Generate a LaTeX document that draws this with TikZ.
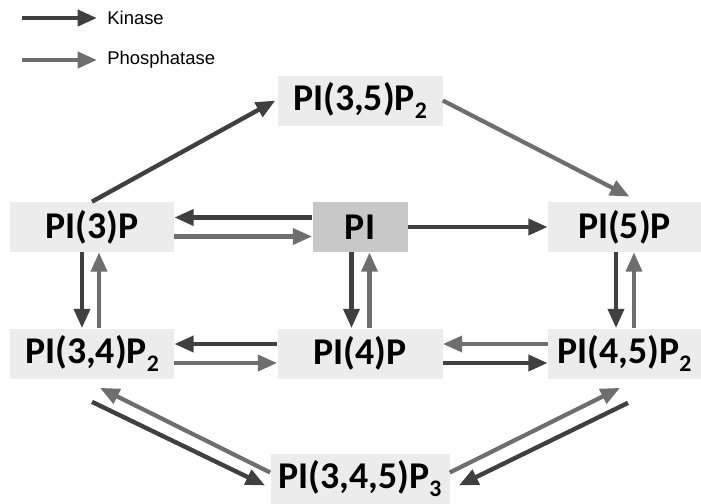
\documentclass[tikz,border=0pt]{standalone}
\usepackage{fontspec}
\setmainfont{Carlito}
\newfontfamily\legendfont{Liberation Sans}
\usepackage{xcolor}
\usepackage{tikz}
\usetikzlibrary{arrows.meta}
\usetikzlibrary{positioning}
\definecolor{kincol}{HTML}{404040}
\definecolor{phoscol}{HTML}{6E6E6E}
\definecolor{boxcol}{HTML}{ECECEC}
\definecolor{picol}{HTML}{C8C8C8}
\newcommand{\psub}[1]{\raisebox{-5pt}{\fontsize{13.5}{13.5}\selectfont #1}}
\tikzset{
    lipide/.style = {rectangle, inner sep=0pt, minimum height=1cm, on grid,
                     font=\fontsize{21.5}{24}\selectfont\bfseries},
    f1/.style = {fill=boxcol},
    f2/.style = {fill=picol},
    kin/.style = {draw=kincol, line width=2.5pt, -{Triangle[length=11pt,width=9pt]}},
    phos/.style = {draw=phoscol, line width=2.4pt, -{Triangle[length=11pt,width=9pt]}},
    leg/.style = {font=\legendfont\fontsize{10.5}{12}\selectfont, anchor=west, inner sep=0.2cm}
}

\begin{document}
\begin{tikzpicture}[node distance=2.53cm and 5.33cm]
                \useasboundingbox (0,0) rectangle (14.02,-10.06);
                % legende
                \coordinate (k0) at (0.44,-0.36);
                \coordinate (p0) at (0.44,-1.2);
                \node (klab) [leg] at (1.94,-0.36) {Kinase};
                \node (plab) [leg] at (1.94,-1.2) {Phosphatase};
                \draw[kin] (k0) -- (klab.west);
                \draw[phos] (p0) -- (plab.west);
                % lipides
                \node (pi) [lipide, f2, minimum width=1.9cm] at (7.2,-4.54) {PI};
                \node (pi3) [lipide, f1, minimum width=3.28cm, left=5.36cm of pi] {PI(3)P};
                \node (pi5) [lipide, f1, minimum width=3.06cm, right=5.29cm of pi] {PI(5)P};
                \node (pi35) [lipide, f1, minimum width=3.3cm, above=of pi] {PI(3,5)P\psub{2}};
                \node (pi4) [lipide, f1, minimum width=3.3cm, below=of pi] {PI(4)P};
                \node (pi34) [lipide, f1, minimum width=3.28cm, below=of pi3] {PI(3,4)P\psub{2}};
                \node (pi45) [lipide, f1, minimum width=3.06cm, below=of pi5] {PI(4,5)P\psub{2}};
                \node (pip3) [lipide, f1, minimum width=3.58cm, below=2.5cm of pi4] {PI(3,4,5)P\psub{3}};
                % horizontales
                \draw[kin] ([yshift=0.19cm]pi.west) -- ([yshift=0.19cm]pi3.east);
                \draw[phos] ([yshift=-0.19cm]pi3.east) -- ([yshift=-0.19cm]pi.west);
                \draw[kin] (pi.east) -- (pi5.west);
                \draw[kin] ([yshift=0.19cm]pi4.west) -- ([yshift=0.19cm]pi34.east);
                \draw[phos] ([yshift=-0.19cm]pi34.east) -- ([yshift=-0.19cm]pi4.west);
                \draw[phos] ([yshift=0.19cm]pi45.west) -- ([yshift=0.19cm]pi4.east);
                \draw[kin] ([yshift=-0.19cm]pi4.east) -- ([yshift=-0.19cm]pi45.west);
                % verticales
                \draw[kin] ([xshift=-0.2cm]pi3.south) -- ([xshift=-0.2cm]pi34.north);
                \draw[phos] ([xshift=0.14cm]pi34.north) -- ([xshift=0.14cm]pi3.south);
                \draw[kin] ([xshift=-0.17cm]pi.south) -- ([xshift=-0.17cm]pi4.north);
                \draw[phos] ([xshift=0.19cm]pi4.north) -- ([xshift=0.19cm]pi.south);
                \draw[kin] ([xshift=-0.17cm]pi5.south) -- ([xshift=-0.17cm]pi45.north);
                \draw[phos] ([xshift=0.19cm]pi45.north) -- ([xshift=0.19cm]pi5.south);
                % diagonales
                \draw[kin] (pi3.north) -- ([xshift=-1pt]pi35.west);
                \draw[phos] (pi35.east) -- ([xshift=0.1cm,yshift=0.1cm]pi5.north);
                \draw[kin] ([yshift=-0.46cm]pi34.south) -- ([xshift=-0.1cm,yshift=-0.14cm]pip3.west);
                \draw[phos] ([yshift=0.12cm]pip3.west) -- ([xshift=0.16cm,yshift=-0.18cm]pi34.south);
                \draw[phos] ([yshift=0.12cm]pip3.east) -- ([xshift=-0.09cm,yshift=-0.18cm]pi45.south);
                \draw[kin] ([xshift=0.07cm,yshift=-0.48cm]pi45.south) -- ([xshift=0.18cm,yshift=-0.14cm]pip3.east);
            \end{tikzpicture}
\end{document}
